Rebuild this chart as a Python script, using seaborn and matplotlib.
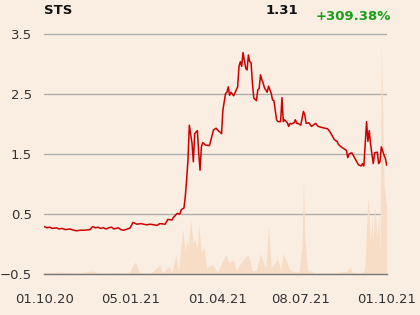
import matplotlib
matplotlib.use("Agg")
import matplotlib.pyplot as plt
import seaborn as sns
import pandas as pd

# ---- data (trading-day index since 01.10.20) ----
price_day = [0, 2, 4, 6, 9, 11, 13, 16, 19, 22, 24, 27, 30, 34, 36, 38, 40, 42, 44, 46, 48, 50, 52, 55, 57, 59, 62, 64, 66, 69, 72, 76,
             79, 84, 86, 90, 92, 95, 96, 99, 101, 102, 104, 105, 106, 107, 108, 110, 111, 112, 114, 115,
             116, 117, 118, 120, 123, 126, 128, 129, 132, 133, 135, 136, 137, 138, 139, 141, 143, 144, 145, 146,
             147, 148, 150, 151, 152, 153, 154, 155, 156, 158, 159, 160, 161, 162, 163, 164, 166, 167, 169, 170,
             171, 173, 174, 176, 177, 178, 179, 181, 182, 183, 184, 186, 187, 188, 189, 191, 193, 194, 195, 197,
             199, 202, 204, 207, 209, 211, 213, 215, 216, 218, 219, 221, 223, 225, 226, 227, 229, 230, 232, 234,
             236, 237, 238, 240, 241, 242, 243, 245, 246, 248, 249, 250, 251, 253, 254, 255]
price = [0.29, 0.27, 0.28, 0.26, 0.27, 0.25, 0.26, 0.24, 0.25, 0.23, 0.22, 0.23, 0.23, 0.24, 0.29, 0.27, 0.28, 0.26, 0.27, 0.25, 0.27, 0.28, 0.25, 0.27, 0.24, 0.23, 0.25, 0.27, 0.36, 0.33, 0.34, 0.32,
         0.33, 0.31, 0.34, 0.33, 0.41, 0.40, 0.44, 0.51, 0.50, 0.57, 0.60, 0.79, 1.07, 1.40, 1.98, 1.68, 1.37, 1.84, 1.89, 1.51,
         1.23, 1.62, 1.69, 1.65, 1.64, 1.90, 1.93, 1.90, 1.84, 2.23, 2.51, 2.53, 2.62, 2.48, 2.53, 2.47, 2.57, 2.62, 2.96, 3.04,
         2.96, 3.19, 2.93, 2.90, 3.15, 3.04, 3.02, 2.68, 2.43, 2.39, 2.57, 2.59, 2.82, 2.74, 2.68, 2.60, 2.53, 2.63, 2.51, 2.40,
         2.39, 2.07, 2.04, 2.04, 2.44, 2.04, 2.07, 2.02, 1.96, 2.01, 2.00, 2.02, 2.07, 2.01, 2.01, 1.98, 2.21, 2.15, 2.01, 2.02,
         1.96, 2.01, 1.96, 1.94, 1.93, 1.92, 1.86, 1.78, 1.74, 1.71, 1.66, 1.62, 1.59, 1.56, 1.44, 1.50, 1.52, 1.48, 1.40, 1.32,
         1.30, 1.34, 1.30, 2.04, 1.71, 1.89, 1.66, 1.34, 1.52, 1.53, 1.34, 1.37, 1.62, 1.48, 1.43, 1.31]

volume_day = [0, 12, 23, 36, 41, 53, 60, 64, 66, 68, 71, 79, 86, 88, 93, 95, 98, 100, 103, 105,
              106, 107, 109, 111, 112, 114, 115, 117, 119, 121, 125, 129, 135, 137, 138, 141, 143, 146, 149, 152,
              155, 158, 161, 163, 165, 167, 169, 172, 174, 176, 178, 181, 183, 188, 190, 192, 193, 194, 196, 202,
              213, 220, 225, 228, 229, 235, 238, 239, 241, 243, 244, 245, 246, 248, 249, 250, 251, 253, 255]
volume = [0.02, 0.03, 0.01, 0.05, 0.01, 0.02, 0.01, 0.04, 0.15, 0.20, 0.02, 0.01, 0.15, 0.02, 0.13, 0.02, 0.32, 0.05, 0.75, 0.35,
          0.57, 0.45, 0.89, 0.50, 0.57, 0.45, 0.83, 0.35, 0.43, 0.10, 0.17, 0.03, 0.32, 0.22, 0.20, 0.23, 0.05, 0.17, 0.26, 0.32,
          0.05, 0.06, 0.34, 0.20, 0.10, 0.79, 0.10, 0.20, 0.25, 0.06, 0.34, 0.18, 0.06, 0.03, 0.06, 0.50, 1.54, 0.60, 0.06, 0.02,
          0.01, 0.03, 0.04, 0.12, 0.03, 0.01, 0.04, 0.20, 1.29, 0.50, 0.99, 0.50, 1.14, 0.60, 1.04, 0.30, 3.82, 1.50, 1.09]

tick_days = [0, 64, 129, 191, 255]
tick_labels = ["01.10.20", "05.01.21", "01.04.21", "08.07.21", "01.10.21"]
y_ticks = [-0.5, 0.5, 1.5, 2.5, 3.5]

ticker = "STS"
last_price = "1.31"
change = "+309.38%"

BG = "#FAEDE2"
sns.set_style("white")
plt.rcParams["font.family"] = ["DejaVu Sans"]

fig = plt.figure(figsize=(4.2, 3.15), dpi=100, facecolor=BG)
ax = fig.add_axes([44.3 / 420, 41 / 315, 342.4 / 420, 249 / 315])
ax.set_facecolor(BG)

base = -0.5
ax.fill_between(volume_day, base, [base + v for v in volume], color="#F7DCC6", linewidth=0, zorder=1)

df = pd.DataFrame({"day": price_day, "price": price})
sns.lineplot(data=df, x="day", y="price", ax=ax, color="#CC0000", linewidth=1.1, zorder=3)

ax.set_xlim(0, 255)
ax.set_ylim(-0.5, 3.65)
ax.set_yticks(y_ticks)
ax.set_yticklabels(["\u22120.5", "0.5", "1.5", "2.5", "3.5"])
ax.set_xticks(tick_days)
ax.set_xticklabels(tick_labels)
ax.set_xlabel("")
ax.set_ylabel("")

ax.grid(axis="y", color="#AAAAAA", linewidth=0.9, zorder=0)
ax.grid(axis="x", visible=False)
for s in ["top", "right", "left"]:
    ax.spines[s].set_visible(False)
ax.spines["bottom"].set_color("#777777")
ax.spines["bottom"].set_linewidth(1.0)
ax.tick_params(axis="y", length=0, pad=9, labelsize=9.5, labelcolor="#333333")
ax.tick_params(axis="x", length=10, width=1.0, color="#777777", pad=4, labelsize=9.5, labelcolor="#333333")

fig.text(44 / 420, 1 - 11 / 315, ticker, ha="left", va="center", fontsize=9.5, fontweight="bold", color="#111111")
fig.text(282 / 420, 1 - 10 / 315, last_price, ha="center", va="center", fontsize=9.5, fontweight="bold", color="#111111")
fig.text(391 / 420, 1 - 17 / 315, change, ha="right", va="center", fontsize=9.5, fontweight="bold", color="#1A9E1A")

fig.savefig("out.png", dpi=100, facecolor=BG)
